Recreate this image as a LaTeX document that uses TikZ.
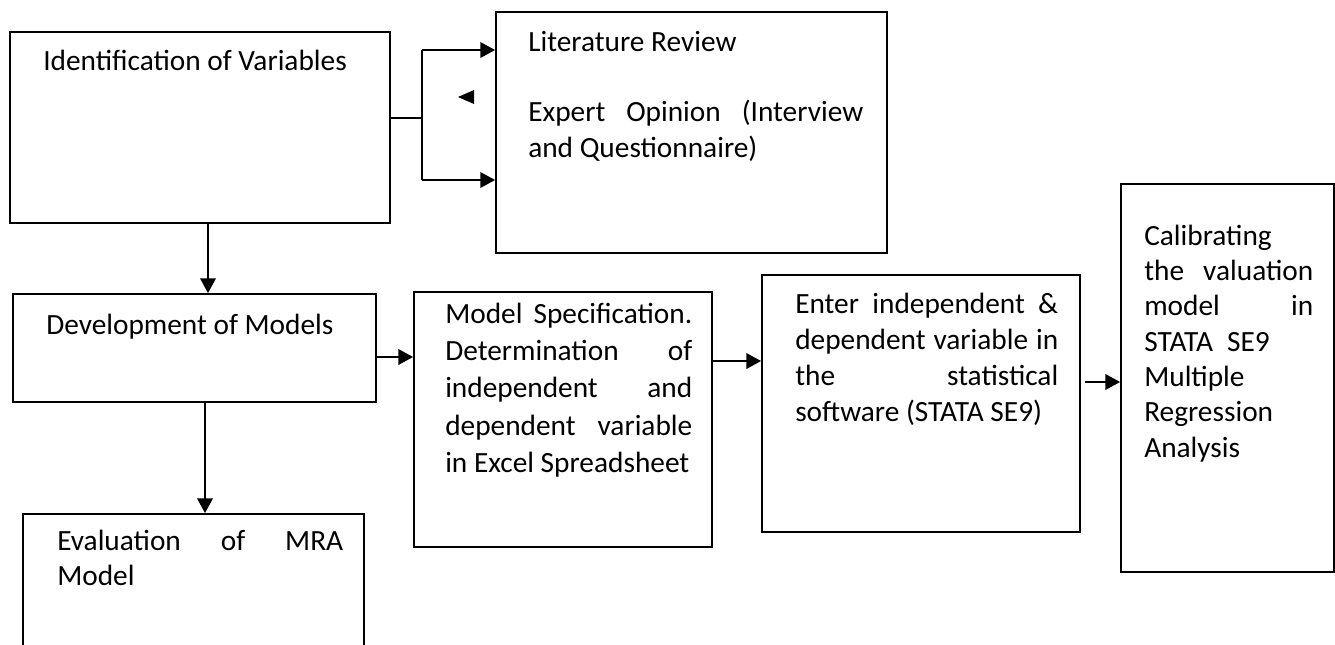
\documentclass[tikz,border=0pt]{standalone}
\usepackage{fontspec}
\setmainfont{Carlito}
\usetikzlibrary{arrows.meta,fit}
\begin{document}
\begin{tikzpicture}[x=0.75pt,y=-0.75pt,
  box/.style={draw=black,line width=1.3pt,inner sep=0pt,fill=none},
  txt/.style={anchor=base west,inner sep=0pt,align=justify,
    font=\fontsize{22pt}{26.5pt}\selectfont},
  arr/.style={line width=1.5pt,-{Triangle[length=11pt,width=11.5pt]}},
  ln/.style={line width=1.5pt}]
\useasboundingbox (0,0) rectangle (1335,644);
\clip (0,0) rectangle (1335,644);
% boxes
\node[box,fit={(10,32) (390,223)}] (b1) {};
\node[box,fit={(496,12) (887,253)}] (b2) {};
\node[box,fit={(13,294) (376,402)}] (b3) {};
\node[box,fit={(414,292) (712,547)}] (b4) {};
\node[box,fit={(762,275) (1080,532)}] (b5) {};
\node[box,fit={(1121,184) (1334,572)}] (b6) {};
\node[box,fit={(23,514) (364,700)}] (b7) {};
% texts
\node[txt] (t1) at (43,70) {Identification of Variables};
\node[txt,text width=335*0.75pt] (t2) at (528,51)
  {Literature Review\par\mbox{}\par Expert Opinion (Interview\linebreak and Questionnaire)};
\node[txt] (t3) at (46,334) {Development of Models};
\node[txt,text width=247*0.75pt,font=\fontsize{22pt}{28pt}\selectfont] (t4) at (445,323)
  {Model Specification.\linebreak Determination of\linebreak independent and\linebreak dependent variable\linebreak in Excel Spreadsheet};
\node[txt,text width=263*0.75pt,font=\fontsize{22pt}{27.2pt}\selectfont] (t5) at (795,313)
  {Enter independent \&\linebreak dependent variable in\linebreak the statistical\linebreak software (STATA SE9)};
\node[txt,text width=169*0.75pt] (t6) at (1144,245)
  {Calibrating\linebreak the valuation\linebreak model in\linebreak STATA\hspace{10.5pt}SE9\par Multiple\par Regression\par Analysis};
\node[txt,text width=286*0.75pt] (t7) at (57,550)
  {Evaluation of MRA\linebreak Model};
% connectors
\coordinate (br) at (422,118);
\coordinate (bt) at (422,50);
\coordinate (bb) at (422,180);
\draw[line width=1pt] (b1.east |- br) -- (br);
\draw[ln] (bt) -- (bb);
\draw[arr] (bt) -- (b2.west |- bt);
\draw[arr] (bb) -- (b2.west |- bb);
\fill (458,97) -- (474,90) -- (474,104) -- cycle;
\coordinate (c1) at (208,0);
\draw[arr] (c1 |- b1.south) -- (c1 |- b3.north);
\coordinate (c2) at (205,0);
\draw[arr] (c2 |- b3.south) -- (c2 |- b7.north);
\coordinate (y1) at (0,357);
\draw[arr] (b3.east |- y1) -- (b4.west |- y1);
\coordinate (y2) at (0,361);
\draw[arr] (b4.east |- y2) -- (b5.west |- y2);
\coordinate (g) at (1085,382);
\draw[arr] (g) -- (b6.west |- g);
\end{tikzpicture}
\end{document}
